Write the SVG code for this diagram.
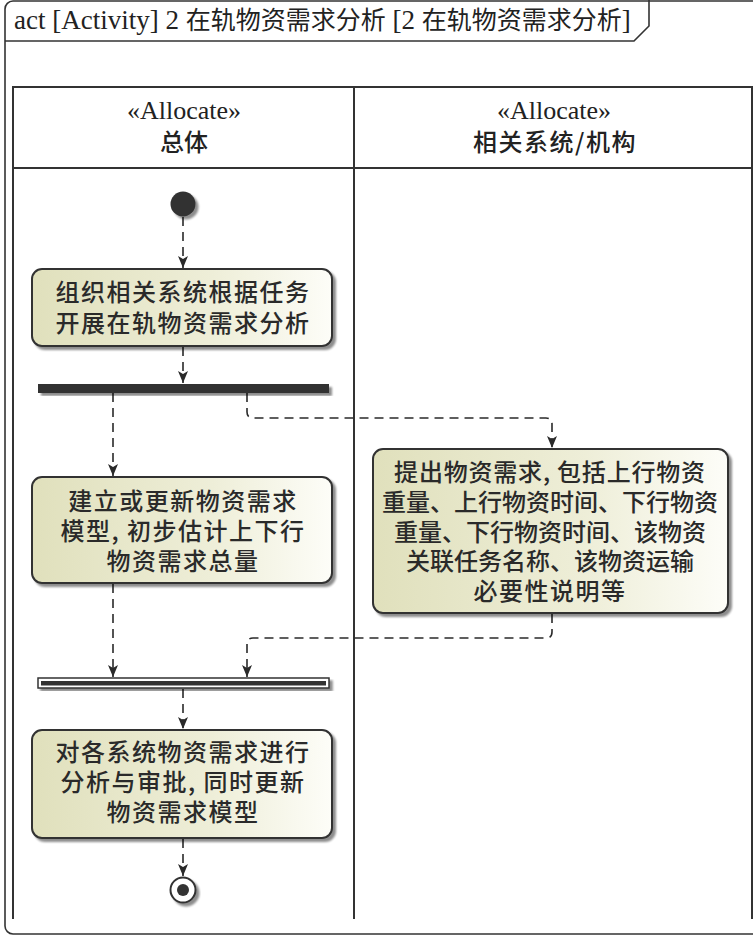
<svg xmlns="http://www.w3.org/2000/svg" width="753" height="936" viewBox="0 0 753 936">
<style>
.frame{fill:none;stroke:#333;stroke-width:1.6}
.lane{fill:none;stroke:#333;stroke-width:2}
.title{font-family:"Liberation Serif","Noto Sans CJK SC",serif;font-size:27px;fill:#222}
.cj{font-family:"Noto Sans CJK SC",sans-serif;font-size:25px}
.hdr{font-family:"Liberation Serif","Noto Sans CJK SC",serif;font-size:26px;fill:#222;text-anchor:middle}
.hdrc{font-family:"Noto Sans CJK SC",sans-serif;font-size:24px;fill:#222;text-anchor:middle;font-weight:500}
.act{fill:url(#g);stroke:#333;stroke-width:2;filter:url(#sh)}
.txt{font-family:"Noto Sans CJK SC",sans-serif;font-size:24px;fill:#2a2a2a;text-anchor:middle;font-weight:500}
.ls{letter-spacing:1.5px}
.bar{fill:#333;filter:url(#sh)}
.conn{fill:none;stroke:#2a2a2a;stroke-width:1.6;stroke-dasharray:9 6;marker-end:url(#arr)}
</style>
<defs>
<linearGradient id="g" x1="0" y1="0" x2="1" y2="0">
<stop offset="0" stop-color="#e0e0bc"/>
<stop offset="0.6" stop-color="#eeeed8"/>
<stop offset="1" stop-color="#fdfdf8"/>
</linearGradient>
<filter id="sh" x="-10%" y="-20%" width="130%" height="150%">
<feGaussianBlur in="SourceAlpha" stdDeviation="1.2"/>
<feOffset dx="3" dy="3" result="b"/>
<feComponentTransfer><feFuncA type="linear" slope="0.45"/></feComponentTransfer>
<feMerge><feMergeNode/><feMergeNode in="SourceGraphic"/></feMerge>
</filter>
<marker id="arr" markerUnits="userSpaceOnUse" markerWidth="12" markerHeight="10" viewBox="0 0 12 10" refX="12" refY="5" orient="auto">
<path d="M0,0 L12,5 L0,10 L3,5 z" fill="#2a2a2a"/>
</marker>
</defs>
<rect width="753" height="936" fill="#fff"/>
<g id="frame">
<rect class="frame" x="5" y="1" width="820" height="933" rx="8"/>
<path class="frame" d="M5,41 H634 L649,26 V0"/>
<text class="title" x="14" y="29">act [Activity] 2 <tspan class="cj">在轨物资需求分析</tspan> [2 <tspan class="cj">在轨物资需求分析</tspan>]</text>
</g>
<g id="lanes">
<path class="lane" d="M13,919 V87 H752 V919 M354,87 V919 M13,168 H752"/>
<text class="hdr" x="184" y="119">«Allocate»</text>
<text class="hdrc" x="184" y="151">总体</text>
<text class="hdr" x="554" y="119">«Allocate»</text>
<text class="hdrc ls" x="555" y="151">相关系统/机构</text>
</g>
<g id="connectors">
<path class="conn" d="M183,217 V268"/>
<path class="conn" d="M183,347 V383"/>
<path class="conn" d="M113,393 V476"/>
<path class="conn" d="M247,393 V412 Q247,418 253,418 H546 Q552,418 552,424 V448"/>
<path class="conn" d="M113,584 V677"/>
<path class="conn" d="M552,614 V632 Q552,638 546,638 H253 Q247,638 247,644 V677"/>
<path class="conn" d="M183,689 V729"/>
<path class="conn" d="M183,839 V876"/>
</g>
<g id="initial">
<circle cx="183" cy="204" r="12.5" fill="#333" filter="url(#sh)"/>
</g>
<g id="a1">
<rect class="act" x="32" y="269" width="300" height="77" rx="10"/>
<text class="txt ls" x="183" y="301">组织相关系统根据任务</text>
<text class="txt ls" x="183" y="332">开展在轨物资需求分析</text>
</g>
<g id="fork">
<rect class="bar" x="38" y="384" width="291" height="9"/>
</g>
<g id="a2">
<rect class="act" x="32" y="477" width="300" height="106" rx="10"/>
<text class="txt ls" x="183" y="510">建立或更新物资需求</text>
<text class="txt ls" x="183" y="540">模型, 初步估计上下行</text>
<text class="txt ls" x="183" y="570">物资需求总量</text>
</g>
<g id="a3">
<rect class="act" x="373" y="449" width="355" height="164" rx="10"/>
<text class="txt" x="550" y="481" style="letter-spacing:0.8px">提出物资需求, 包括上行物资</text>
<text class="txt" x="550" y="511">重量、上行物资时间、下行物资</text>
<text class="txt" x="550" y="541">重量、下行物资时间、该物资</text>
<text class="txt" x="550" y="570">关联任务名称、该物资运输</text>
<text class="txt ls" x="550" y="600">必要性说明等</text>
</g>
<g id="join">
<rect x="38" y="678" width="291" height="10" fill="#fff" stroke="#333" stroke-width="1.5" filter="url(#sh)"/>
<rect x="41" y="681" width="285" height="4.5" fill="#333"/>
</g>
<g id="a4">
<rect class="act" x="32" y="730" width="300" height="108" rx="10"/>
<text class="txt ls" x="183" y="761">对各系统物资需求进行</text>
<text class="txt ls" x="183" y="791">分析与审批, 同时更新</text>
<text class="txt ls" x="183" y="821">物资需求模型</text>
</g>
<g id="final">
<circle cx="183" cy="890" r="12.5" fill="#fff" stroke="#333" stroke-width="2" filter="url(#sh)"/>
<circle cx="183" cy="890" r="6" fill="#333"/>
</g>
</svg>
